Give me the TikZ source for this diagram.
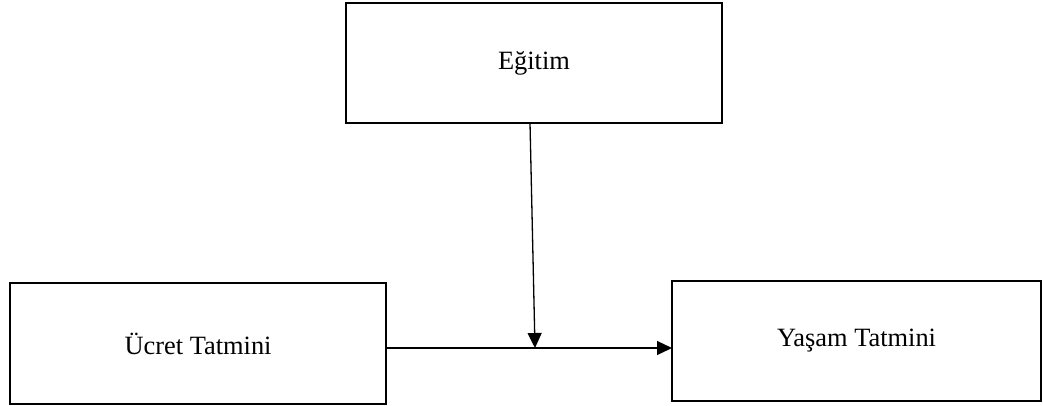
\documentclass[tikz,border=0pt]{standalone}
\usepackage{fontspec}
\setmainfont{Liberation Serif}
\usetikzlibrary{arrows.meta}
\begin{document}
\begin{tikzpicture}[x=1pt,y=-1pt,
  box/.style={draw=black,line width=1.8pt,inner sep=0pt,outer sep=0pt,
    font=\fontsize{26.4}{30}\selectfont},
  conn/.style={draw=black,line width=1.3pt,-{Triangle[length=15pt,width=14pt]}}]
\useasboundingbox (0,0) rectangle (1043,405);
\node[box,minimum width=376pt,minimum height=120pt] (egitim) at (534,63) {Eğitim};
\node[box,minimum width=376pt,minimum height=121pt] (ucret) at (198,343.5) {Ücret Tatmini};
\node[box,minimum width=369pt,minimum height=120pt] (yasam) at (856.5,341) {Yaşam Tatmini};
\coordinate (mid) at (535,348);
\draw[conn] ([xshift=-4pt]egitim.south) -- (mid);
\draw[conn] (ucret.east |- mid) -- (yasam.west |- mid);
\end{tikzpicture}
\end{document}
